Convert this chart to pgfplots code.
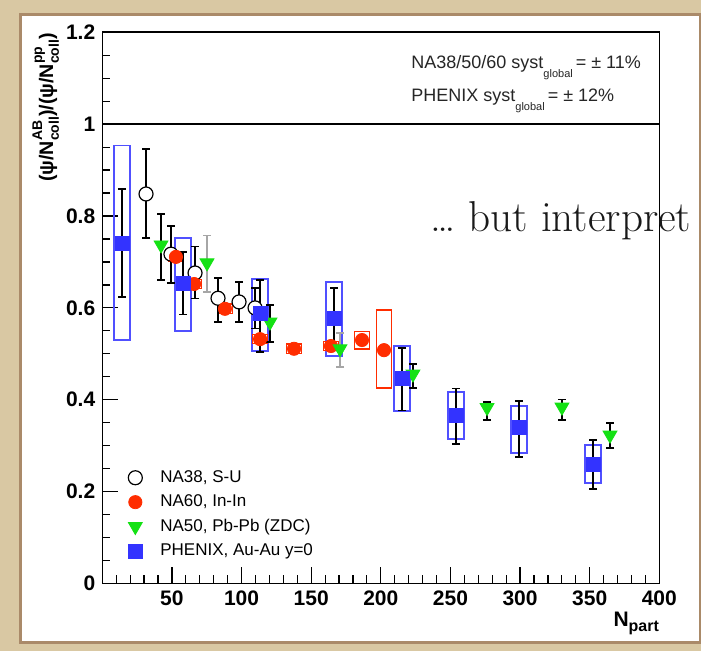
\documentclass[border=0pt]{standalone}
\usepackage{fontspec}
\setsansfont{Liberation Sans}
\usepackage{pgfplots}
\usepackage{pgfplotstable}
\pgfplotsset{compat=1.18}
\definecolor{parch}{RGB}{217,200,163}
\definecolor{parchedge}{RGB}{170,138,105}
\definecolor{phblue}{RGB}{51,51,255}
\definecolor{boxblue}{RGB}{80,80,255}
\definecolor{nared}{RGB}{255,45,0}
\definecolor{nagreen}{RGB}{20,225,20}

\pgfplotstableread{
x y ep em
14.1 0.741 0.118 0.117
58.0 0.654 0.068 0.069
113.3 0.589 0.072 0.085
166.4 0.578 0.065 0.070
215.2 0.447 0.066 0.071
254.0 0.367 0.057 0.063
299.2 0.339 0.058 0.064
352.4 0.260 0.052 0.054
}\phenix

\pgfplotstableread{
x y ep em
42.2 0.737 0.067 0.076
120.4 0.569 0.037 0.043
223.1 0.456 0.022 0.030
276.3 0.383 0.012 0.027
330.1 0.384 0.016 0.028
364.6 0.323 0.026 0.028
}\nafiftyblack

\pgfplotstableread{
x y ep em
75.2 0.698 0.059 0.063
170.7 0.511 0.034 0.040
}\nafiftygray

\pgfplotstableread{
x y ep em
31.4 0.848 0.098 0.096
49.3 0.717 0.061 0.063
66.6 0.676 0.057 0.056
83.1 0.621 0.044 0.052
98.2 0.613 0.043 0.044
109.7 0.600 0.043 0.045
}\nathirtyeight

\pgfplotstableread{
x y
52.9 0.711
65.9 0.652
88.1 0.598
113.3 0.532
137.7 0.511
164.2 0.517
186.5 0.530
202.3 0.508
}\nasixty

\newcommand{\supsub}[2]{\rlap{\raisebox{1.05ex}{\fontsize{7}{7}\selectfont #1}}\raisebox{-0.55ex}{\fontsize{7}{7}\selectfont #2}}

\begin{document}
\begin{tikzpicture}
\begin{scope}[x=0.5pt,y=0.5pt]
\fill[parch] (0,0) rectangle (701,651);
\fill[white, draw=parchedge, line width=1.5pt] (20,8) rectangle (700,636);
\end{scope}
\begin{axis}[
  at={(51.15pt,33.75pt)}, anchor=south west,
  scale only axis, width=278.5pt, height=275.6pt,
  xmin=0, xmax=400, ymin=0, ymax=1.2,
  xtick={0,50,...,400},
  xticklabels={,50,100,150,200,250,300,350,400},
  minor x tick num=4,
  ytick={0,0.2,0.4,0.6,0.8,1,1.2},
  yticklabels={0\hspace{8.5pt},0.2,0.4,0.6,0.8,1,1.2},
  minor y tick num=3,
  tick align=inside, xtick pos=bottom, ytick pos=left,
  major tick length=8pt, minor tick length=4pt,
  axis line style={black, line width=0.8pt},
  every tick/.style={black, line width=0.6pt},
  tick label style={font=\sffamily\bfseries\fontsize{10.5}{12}\selectfont},
  /pgf/number format/assume math mode=true,
  xlabel={\sffamily\bfseries\fontsize{10.5}{12}\selectfont N\raisebox{-0.4ex}{\fontsize{8}{9}\selectfont part}},
  every axis x label/.style={at={(axis description cs:1,-0.0789)}, anchor=base east, inner sep=0pt},
  ylabel={\sffamily\bfseries\fontsize{9.8}{11}\selectfont (ψ/N\supsub{AB}{coll})/(ψ/N\supsub{pp}{coll})},
  every axis y label/.style={at={(axis description cs:-0.0883,0.999)}, rotate=90, anchor=base east, inner sep=0pt},
  legend style={at={(axis description cs:0.046,0.208)}, anchor=north west, draw=none, fill=none, inner sep=0pt,
    font=\sffamily\fontsize{8.5}{10}\selectfont, row sep=3.7pt,
    nodes={inner sep=0pt, text height=6.5pt, text depth=2pt},
    /tikz/every odd column/.append style={column sep=9pt}},
  legend cell align=left,
  legend image code/.code={\draw[#1] plot coordinates {(0pt,0pt)};},
  error bars/error bar style={black, line width=0.7pt},
  error bars/error mark options={rotate=90, black, line width=0.7pt, mark size=2pt},
]
% horizontal line at 1
\addplot[black, line width=0.7pt, forget plot] coordinates {(0,1) (400,1)};
% PHENIX systematic boxes
\pgfplotsset{pbox/.style={draw=boxblue, line width=0.75pt, no marks, forget plot}}
\addplot[pbox] coordinates {(8.4,0.530) (19.8,0.530) (19.8,0.953) (8.4,0.953)} --cycle;
\addplot[pbox] coordinates {(52.3,0.550) (63.7,0.550) (63.7,0.752) (52.3,0.752)} --cycle;
\addplot[pbox] coordinates {(107.6,0.506) (119.0,0.506) (119.0,0.663) (107.6,0.663)} --cycle;
\addplot[pbox] coordinates {(160.7,0.495) (172.1,0.495) (172.1,0.656) (160.7,0.656)} --cycle;
\addplot[pbox] coordinates {(209.5,0.376) (220.9,0.376) (220.9,0.517) (209.5,0.517)} --cycle;
\addplot[pbox] coordinates {(248.3,0.315) (259.7,0.315) (259.7,0.417) (248.3,0.417)} --cycle;
\addplot[pbox] coordinates {(293.5,0.284) (304.9,0.284) (304.9,0.386) (293.5,0.386)} --cycle;
\addplot[pbox] coordinates {(346.7,0.219) (358.1,0.219) (358.1,0.302) (346.7,0.302)} --cycle;
% NA60 systematic boxes
\pgfplotsset{rbox/.style={draw=nared, line width=0.75pt, no marks, forget plot}}
\addplot[rbox] coordinates {(47.5,0.701) (58.3,0.701) (58.3,0.721) (47.5,0.721)} --cycle;
\addplot[rbox] coordinates {(60.5,0.642) (71.3,0.642) (71.3,0.662) (60.5,0.662)} --cycle;
\addplot[rbox] coordinates {(82.7,0.588) (93.5,0.588) (93.5,0.608) (82.7,0.608)} --cycle;
\addplot[rbox] coordinates {(107.9,0.522) (118.7,0.522) (118.7,0.542) (107.9,0.542)} --cycle;
\addplot[rbox] coordinates {(132.3,0.501) (143.1,0.501) (143.1,0.521) (132.3,0.521)} --cycle;
\addplot[rbox] coordinates {(158.8,0.507) (169.6,0.507) (169.6,0.527) (158.8,0.527)} --cycle;
\addplot[rbox] coordinates {(181.1,0.511) (191.9,0.511) (191.9,0.549) (181.1,0.549)} --cycle;
\addplot[rbox] coordinates {(196.9,0.426) (207.7,0.426) (207.7,0.595) (196.9,0.595)} --cycle;
% NA38
\addplot[only marks, mark=*, mark size=3.5pt, mark options={fill=white, draw=black, line width=0.6pt},
  error bars/.cd, y dir=both, y explicit]
  table[x=x, y=y, y error plus=ep, y error minus=em]{\nathirtyeight};
\addlegendentry{NA38, S-U}
% NA60
\addplot[only marks, mark=*, mark size=3.3pt, color=nared]
  table[x=x, y=y]{\nasixty};
\addlegendentry{NA60, In-In}
% NA50
\addplot[only marks, mark=triangle*, mark size=4pt, color=nagreen, mark options={rotate=180},
  error bars/.cd, y dir=both, y explicit]
  table[x=x, y=y, y error plus=ep, y error minus=em]{\nafiftyblack};
\addlegendentry{NA50, Pb-Pb (ZDC)}
\addplot[only marks, mark=triangle*, mark size=4pt, color=nagreen, mark options={rotate=180}, forget plot,
  error bars/.cd, y dir=both, y explicit,
  error bar style={gray!70, line width=0.7pt},
  error mark options={rotate=90, gray!70, line width=0.7pt, mark size=2pt}]
  table[x=x, y=y, y error plus=ep, y error minus=em]{\nafiftygray};
% PHENIX
\addplot[only marks, mark=square*, mark size=3.5pt, color=phblue,
  error bars/.cd, y dir=both, y explicit]
  table[x=x, y=y, y error plus=ep, y error minus=em]{\phenix};
\addlegendentry{PHENIX, Au-Au y=0}
\end{axis}
\begin{scope}[x=0.5pt,y=0.5pt]
\node[anchor=base west, inner sep=0pt, font=\sffamily\fontsize{9}{10}\selectfont, text=black!85] at (411,582)
  {NA38/50/60 syst\raisebox{-0.9ex}{\fontsize{5.5}{6}\selectfont global}\,= ± 11\%};
\node[anchor=base west, inner sep=0pt, font=\sffamily\fontsize{9}{10}\selectfont, text=black!85] at (411,549)
  {PHENIX syst\raisebox{-0.9ex}{\fontsize{5.5}{6}\selectfont global}\,= ± 12\%};
\node[anchor=base west, inner sep=0pt, font=\rmfamily\fontsize{21.6}{25}\selectfont, text=black!90] at (430,419)
  {\ldots{} but interpret};
\end{scope}
\pgfresetboundingbox
\path[use as bounding box] (0,0) rectangle (350.5pt,325.5pt);
\end{tikzpicture}
\end{document}
